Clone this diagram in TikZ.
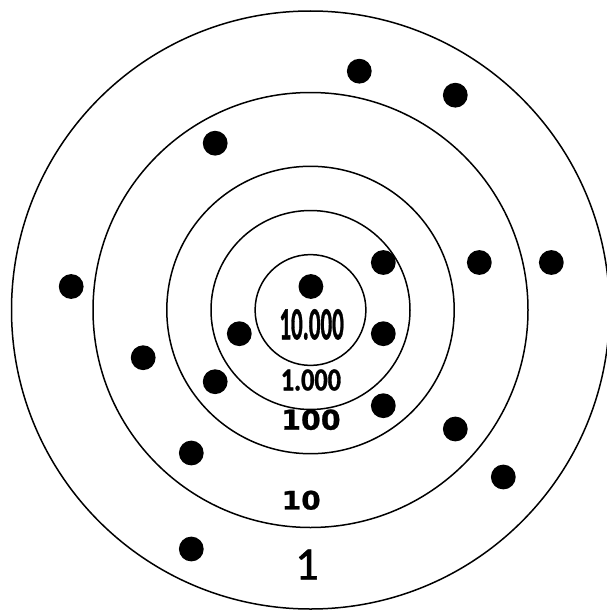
\documentclass[tikz,border=0pt]{standalone}
\usepackage{fontspec}
\usepackage{xcolor}
\usepackage{tikz}
\newfontfamily\calkalin{Carlito Bold}[FakeBold=1.2]
\newfontfamily\calfont{Carlito}[FakeBold=1.5]
\newfontfamily\verfont{DejaVu Sans Bold}[FakeBold=0.8]
\definecolor{halkaSiyah}{HTML}{000000}

\begin{document}
\begin{tikzpicture}[x=1pt,y=-1pt,
  halka/.style={draw=halkaSiyah,line width=1.5pt},
  nokta/.style={fill=halkaSiyah},
  etiket/.style={inner sep=0pt,text=halkaSiyah}]
\useasboundingbox (0,0) rectangle (607,610);
\clip (0,0) rectangle (607,610);
\foreach \r in {299,217.5,143.7,99.5,55.4}
  \draw[halka] (310.5,310) circle (\r);
\foreach \px/\py in {359.3/71.2,455.3/95.2,215.2/143.2,71.2/286.5,310.9/286.5,
  383.3/262.5,479.3/262.5,551.3/262.5,239.3/333.7,383.3/333.7,143.2/357.7,
  215.2/381.7,383.3/405.7,455.3/429,191.3/453,503.3/477,191.3/549}
  \fill[nokta] (\px,\py) circle (12.4);
\node[etiket,font=\calkalin\fontsize{46}{46}\selectfont,xscale=0.5] (onbin) at (311.6,324.4) {10.000};
\node[etiket,font=\calkalin\fontsize{32}{32}\selectfont,xscale=0.82] (bin) at (310.9,380) {1.000};
\node[etiket,font=\verfont\fontsize{27.4}{27.4}\selectfont,xscale=1.04] (yuz) at (310.9,419.7) {100};
\node[etiket,font=\verfont\fontsize{25.5}{25.5}\selectfont,xscale=1.1] (on) at (301.2,500.2) {10};
\node[etiket,font=\calfont\fontsize{46}{46}\selectfont] (bir) at (307,564.5) {1};
\end{tikzpicture}
\end{document}
